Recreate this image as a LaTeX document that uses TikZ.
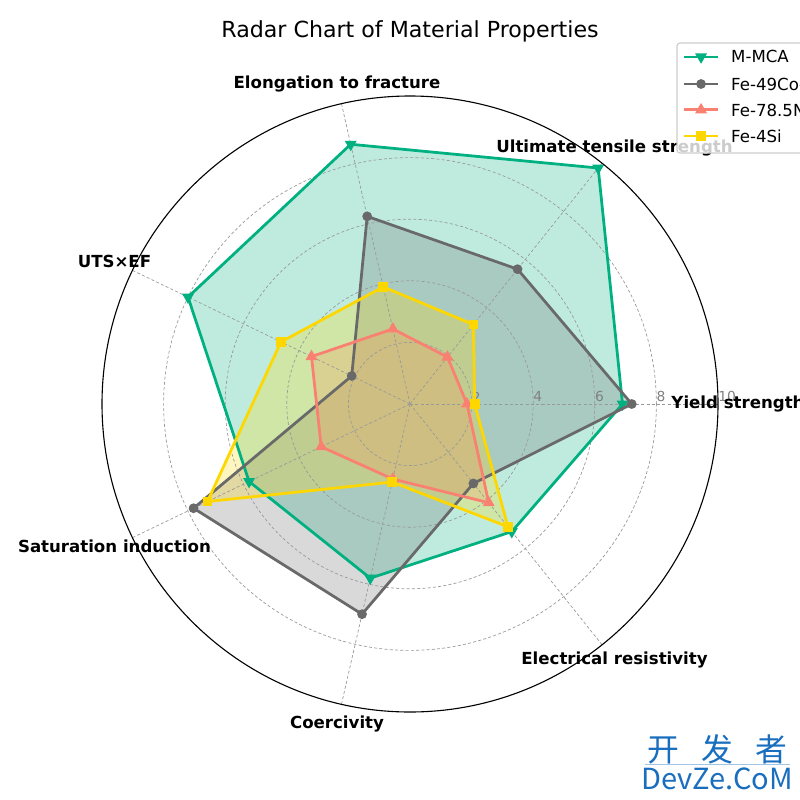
\documentclass[tikz,border=0pt]{standalone}
\usepackage{fontspec}
\setmainfont{DejaVu Sans}
\newfontfamily\cjk{Noto Sans CJK SC}
\usetikzlibrary{shapes.geometric}
\definecolor{mmca}{RGB}{0,176,128}
\definecolor{feco}{RGB}{105,105,105}
\definecolor{feni}{RGB}{250,128,114}
\definecolor{fesi}{RGB}{255,215,0}
\definecolor{devze}{RGB}{25,110,190}
\tikzset{
	gridln/.style={black!40, line width=0.5pt, dash pattern=on 2.2pt off 1.6pt},
	serie/.style={line width=2pt, line join=round},
	mkr/.style={inner sep=0pt, line width=1pt},
	mdown/.style={mkr, regular polygon, regular polygon sides=3, shape border rotate=180, minimum size=8pt},
	mup/.style={mkr, regular polygon, regular polygon sides=3, minimum size=8pt},
	mdot/.style={mkr, circle, minimum size=6pt},
	msq/.style={mkr, rectangle, minimum size=6pt},
	axlabel/.style={font=\fontsize{12}{14}\selectfont\bfseries},
}

\begin{document}
\begin{tikzpicture}[x=0.78232cm, y=0.78232cm]
	\useasboundingbox (-13.312,-12.857) rectangle (12.662,13.117);
	\coordinate (o) at (0,0);
	\foreach \nm/\col/\vals in {m/mmca/{6.9,9.8,8.65,8.0,5.8,5.8,5.3},
		c/feco/{7.2,5.6,6.25,2.1,7.8,7.0,3.3},
		n/feni/{1.85,1.95,2.5,3.55,3.2,2.5,4.1},
		s/fesi/{2.1,3.3,3.9,4.65,7.3,2.6,5.1}}{
		\foreach \v [count=\k from 0] in \vals \coordinate (\nm\k) at ({\k*360/7}:\v);
		\fill[\col, opacity=.25] (\nm0) -- (\nm1) -- (\nm2) -- (\nm3) -- (\nm4) -- (\nm5) -- (\nm6) -- cycle;
	}
	\foreach \r in {2,4,6,8} \draw[gridln] (o) circle (\r);
	\foreach \k in {0,...,6}{
		\coordinate (e\k) at ({\k*360/7}:10);
		\draw[gridln] (o) -- (e\k);
	}
	\foreach \r in {2,4,6,8,10}
		\node[anchor=west, inner sep=0pt, text=black!50, font=\fontsize{10}{12}\selectfont] (t\r) at (\r,0.23) {\r};
	\foreach \nm/\col/\mk in {m/mmca/mdown, c/feco/mdot, n/feni/mup, s/fesi/msq}{
		\draw[serie, \col] (\nm0) -- (\nm1) -- (\nm2) -- (\nm3) -- (\nm4) -- (\nm5) -- (\nm6) -- cycle;
		\foreach \k in {0,...,6} \node[\mk, fill=\col, draw=\col] at (\nm\k) {};
	}
	\draw[line width=0.8pt] (o) circle (10);
	\foreach \lab [count=\k from 0] in {Yield strength, Ultimate tensile strength, Elongation to fracture,
		UTS×EF, Saturation induction, Coercivity, Electrical resistivity}
		\node[axlabel] (l\k) at ({\k*360/7}:10.65) {\lab};
	\node[font=\fontsize{16}{19}\selectfont] (title) at (0,12.11) {Radar Chart of Material Properties};
	\draw[black!20, fill=white, fill opacity=0.8, rounded corners=2pt, line width=0.8pt] (8.67,11.72) rectangle (13.5,8.15);
	\foreach \y/\col/\mk/\txt in {11.27/mmca/mdown/M-MCA, 10.39/feco/mdot/Fe-49Co-2V, 9.55/feni/mup/Fe-78.5Ni, 8.70/fesi/msq/Fe-4Si}{
		\draw[serie, \col] (8.9,\y) -- (10.0,\y);
		\node[\mk, fill=\col, draw=\col] at (9.45,\y) {};
		\node[anchor=west, inner sep=0pt, font=\fontsize{12}{14}\selectfont] at (10.42,\y) {\txt};
	}
	\node[text=devze, font=\cjk\fontsize{23}{26}\selectfont] (wm) at (9.97,-11.23) {开\hspace{0.7em}发\hspace{0.7em}者};
	\draw[devze!40, line width=0.6pt] (7.63,-11.69) -- (12.34,-11.69);
	\node[text=devze, font=\cjk\fontsize{21}{24}\selectfont] (wm2) at (9.97,-12.18) {DevZe.CoM};
\end{tikzpicture}
\end{document}
